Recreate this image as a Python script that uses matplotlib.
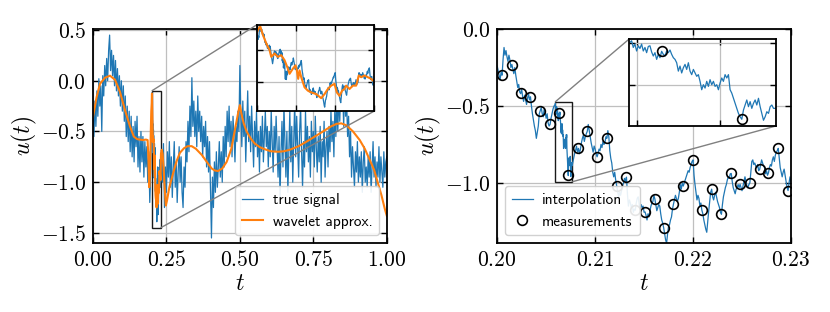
import numpy as np
import matplotlib.pyplot as plt
from matplotlib.ticker import FuncFormatter, MultipleLocator
from mpl_toolkits.axes_grid1.inset_locator import mark_inset

plt.rcParams['mathtext.fontset'] = 'cm'

# true signal, coarse part on [0, 0.2)
t_sig_a = np.arange(60) / 300
u_sig_a = [-0.30, -0.55, -0.20, -0.45, -0.10, -0.35, 0.02, -0.25, -0.05, -0.50,
           0.05, -0.15, 0.15, -0.05, 0.22, 0.00, 0.30, 0.45, 0.10, 0.30,
           0.05, 0.25, -0.05, 0.20, -0.10, 0.12, -0.15, 0.05, -0.25, 0.00,
           -0.30, -0.05, -0.40, -0.15, -0.55, -0.25, -0.60, -0.30, -0.70, -0.35,
           -0.75, -0.45, -0.80, -0.40, -0.65, -0.35, -0.85, -0.55, -0.90, -0.50,
           -0.80, -0.55, -0.95, -0.60, -0.85, -0.65, -1.00, -0.70, -1.20, -0.90]

# true signal on [0.2000, 0.2058], step 1e-4
t_sig_b1 = 0.2 + np.arange(59) * 1e-4
u_sig_b1 = [-0.24, -0.27, -0.30, -0.33, -0.28, -0.30, -0.20, -0.12, -0.17, -0.14,
            -0.18, -0.21, -0.17, -0.20, -0.25, -0.23, -0.26, -0.29, -0.25, -0.30,
            -0.34, -0.38, -0.36, -0.41, -0.42, -0.39, -0.44, -0.47, -0.43, -0.46,
            -0.49, -0.45, -0.42, -0.46, -0.44, -0.50, -0.55, -0.59, -0.63, -0.66,
            -0.71, -0.67, -0.63, -0.55, -0.53, -0.51, -0.55, -0.57, -0.52, -0.54,
            -0.58, -0.55, -0.61, -0.63, -0.62, -0.58, -0.55, -0.52, -0.50]

# true signal, finest part [0.2059, 0.2077]
t_sig_f = np.linspace(0.20592, 0.20766, 88)
u_sig_f = [-0.494, -0.484, -0.524, -0.504, -0.545, -0.514, -0.530, -0.504, -0.545, -0.524,
           -0.555, -0.518, -0.514, -0.551, -0.575, -0.555, -0.595, -0.565, -0.585, -0.547,
           -0.565, -0.575, -0.545, -0.555, -0.539, -0.565, -0.585, -0.595, -0.615, -0.665,
           -0.635, -0.676, -0.645, -0.625, -0.655, -0.615, -0.665, -0.686, -0.655, -0.676,
           -0.696, -0.686, -0.726, -0.776, -0.746, -0.766, -0.726, -0.756, -0.716, -0.746,
           -0.726, -0.756, -0.746, -0.776, -0.736, -0.706, -0.726, -0.686, -0.706, -0.686,
           -0.776, -0.796, -0.827, -0.857, -0.887, -0.917, -0.937, -0.952, -0.897, -0.867,
           -0.837, -0.877, -0.847, -0.887, -0.857, -0.837, -0.867, -0.827, -0.877, -0.917,
           -0.958, -0.937, -0.907, -0.917, -0.877, -0.867, -0.887, -0.887]

# true signal on [0.2078, 0.2300], step 1e-4
t_sig_b2 = 0.2078 + np.arange(223) * 1e-4
u_sig_b2 = [-0.84, -0.81, -0.79, -0.76, -0.80, -0.775, -0.81, -0.78, -0.74, -0.71,
            -0.69, -0.73, -0.70, -0.68, -0.664, -0.62, -0.66, -0.70, -0.74, -0.77,
            -0.80, -0.76, -0.78, -0.81, -0.83, -0.81, -0.78, -0.79, -0.75, -0.77,
            -0.73, -0.75, -0.74, -0.70, -0.71, -0.66, -0.70, -0.79, -0.84, -0.87,
            -0.93, -0.96, -0.93, -0.98, -1.018, -1.06, -1.09, -1.06, -1.08, -1.05,
            -1.02, -1.00, -0.97, -0.99, -0.962, -1.07, -1.15, -1.11, -1.13, -1.16,
            -1.14, -1.19, -1.17, -1.177, -1.13, -1.10, -1.09, -1.14, -1.17, -1.14,
            -1.16, -1.15, -1.19, -1.188, -1.21, -1.24, -1.20, -1.22, -1.18, -1.15,
            -1.13, -1.12, -1.08, -1.104, -1.14, -1.18, -1.16, -1.14, -1.15, -1.20,
            -1.24, -1.26, -1.291, -1.33, -1.37, -1.39, -1.33, -1.28, -1.27, -1.24,
            -1.22, -1.17, -1.137, -1.11, -1.08, -1.10, -1.12, -1.10, -1.06, -1.01,
            -1.04, -1.00, -1.02, -1.00, -0.98, -0.96, -0.94, -0.92, -0.93, -0.90,
            -0.88, -0.86, -0.85, -0.95, -1.01, -1.06, -1.11, -1.08, -1.10, -1.15,
            -1.13, -1.177, -1.20, -1.24, -1.27, -1.30, -1.32, -1.25, -1.18, -1.12,
            -1.06, -1.04, -1.09, -1.11, -1.08, -1.06, -1.09, -1.12, -1.14, -1.16,
            -1.19, -1.203, -1.14, -1.09, -1.06, -1.03, -1.01, -0.98, -0.96, -0.97,
            -0.94, -0.938, -0.99, -1.03, -1.05, -1.07, -1.04, -1.03, -1.01, -1.03,
            -1.009, -1.03, -1.05, -1.02, -0.99, -0.96, -0.99, -1.02, -1.03, -1.01,
            -1.00, -0.93, -0.86, -0.85, -0.88, -0.87, -0.89, -0.90, -0.88, -0.92,
            -0.912, -0.88, -0.85, -0.87, -0.89, -0.90, -0.94, -0.92, -0.95, -0.934,
            -0.90, -0.88, -0.89, -0.85, -0.83, -0.86, -0.82, -0.80, -0.79, -0.775,
            -0.84, -0.90, -0.93, -0.96, -0.93, -0.91, -0.95, -0.99, -1.03, -1.049,
            -1.00, -0.96, -1.00]

# true signal, coarse part on (0.23, 1]
t_sig_c = np.arange(70, 301) / 300
u_sig_c = [-0.70, -1.00, -0.62, -1.25, -0.85, -1.10, -0.70, -0.95, -0.60, -1.05,
           -0.75, -1.15, -0.85, -0.60, -1.05, -0.80, -1.20, -0.90, -0.65, -1.00,
           -0.75, -1.10, -1.25, -0.85, -1.05, -0.60, -0.80, -0.40, -0.70, -0.25,
           -0.55, 0.03, -0.45, -0.20, -0.55, -0.30, -0.65, -0.15, -0.50, -0.30,
           -0.60, -0.35, -0.75, -0.45, -0.65, -0.40, -0.85, -0.55, -0.90, -0.60,
           -1.05, -1.55, -0.95, -1.25, -0.80, -1.10, -0.70, -1.05, -0.85, -0.60,
           -0.95, -0.70, -1.00, -0.55, -0.85, -0.45, -0.75, -0.30, -0.60, -0.25,
           -0.65, -0.40, -0.75, -0.35, -0.55, -0.80, -0.45, -0.60, -0.30, -0.50,
           0.15, -0.35, -0.65, -0.20, -0.55, -0.30, -0.80, -0.45, -0.10, -0.60,
           -0.35, -0.70, -0.25, -0.55, -0.85, -0.40, -0.65, -0.30, -0.75, -0.50,
           -0.90, -0.45, -0.70, -0.35, -0.80, -0.55, -0.30, -0.65, -0.45, -0.85,
           -0.50, -0.75, -0.30, -0.60, -0.90, -0.45, -0.70, -0.35, -0.65, -0.95,
           -0.55, -1.15, -0.70, -0.40, -0.85, -0.25, -0.60, -0.95, -0.50, -1.10,
           -0.70, -0.30, -0.80, -0.45, -1.00, -0.60, -0.20, -0.75, -0.35, -0.65,
           -0.95, -0.50, -0.25, -0.70, -1.05, -0.60, -0.85, -0.30, -0.70, -0.45,
           -0.80, -0.55, -0.95, -0.40, -0.70, -0.50, -0.85, -0.35, -0.65, -0.90,
           -0.55, -0.80, -0.45, -1.00, -0.60, -0.75, -0.40, -0.95, -0.65, -0.50,
           -0.85, -0.45, -0.70, -0.30, -0.60, -0.40, -0.75, -0.25, -0.55, -0.20,
           -0.50, -0.15, -0.40, -0.05, -0.30, -0.10, -0.45, 0.00, -0.35, -0.20,
           -0.55, -0.35, -0.75, -0.50, -0.95, -0.65, -0.85, -1.05, -0.70, -0.90,
           -0.60, -1.00, -0.75, -0.95, -0.70, -1.10, -0.80, -0.65, -1.00, -0.85,
           -1.05, -0.75, -0.95, -0.70, -1.10, -0.85, -0.60, -0.95, -0.75, -1.05,
           -0.80, -0.95, -0.65, -1.00, -0.75, -0.90, -1.05, -0.70, -0.95, -0.80,
           -0.75]

# wavelet approximation
t_wav = [0.0, 0.0125, 0.024, 0.041, 0.058, 0.075, 0.092, 0.109, 0.126, 0.139,
         0.15, 0.16, 0.17, 0.18, 0.186, 0.1885, 0.1915, 0.1945, 0.1965, 0.1985,
         0.2, 0.20026, 0.20085, 0.20153, 0.20238, 0.20323, 0.20366, 0.20451, 0.20536,
         0.20621, 0.20706, 0.20791, 0.20833, 0.20918, 0.20986, 0.2102, 0.21054,
         0.21088, 0.21131, 0.21216, 0.21301, 0.21386, 0.21513, 0.21641, 0.21726,
         0.21811, 0.21895, 0.2198, 0.2204, 0.22108, 0.22176, 0.22235, 0.22278,
         0.22363, 0.22448, 0.22533, 0.22601, 0.22661, 0.22746, 0.22831, 0.22916,
         0.22958, 0.23, 0.2315, 0.234, 0.237, 0.2405, 0.244, 0.248, 0.252, 0.26,
         0.273, 0.285, 0.296, 0.31, 0.322, 0.336, 0.35, 0.37, 0.39, 0.404, 0.415,
         0.426, 0.44, 0.455, 0.465, 0.471, 0.482, 0.49, 0.496, 0.5, 0.505, 0.513,
         0.523, 0.537, 0.551, 0.568, 0.585, 0.605, 0.63, 0.65, 0.67, 0.7, 0.727,
         0.755, 0.783, 0.81, 0.829, 0.845, 0.863, 0.885, 0.908, 0.925, 0.942,
         0.957, 0.97, 0.982, 0.993, 1.0]
u_wav = [-0.36, -0.16, -0.03, 0.03, 0.05, 0.01, -0.11, -0.29, -0.45, -0.55,
         -0.575, -0.58, -0.585, -0.58, -0.585, -0.75, -1.05, -0.9, -0.55, -0.3,
         -0.22, -0.179, -0.126, -0.259, -0.391, -0.497, -0.603, -0.55, -0.603,
         -0.576, -0.656, -0.788, -0.868, -0.788, -0.735, -0.815, -0.947,
         -0.815, -0.921, -1.079, -1.132, -1.159, -1.185, -1.249, -1.185,
         -1.106, -1.053, -1.026, -1.159, -1.212, -1.132, -1.106, -1.053,
         -1.106, -1.053, -1.053, -0.894, -0.921, -0.894, -0.921, -0.947,
         -0.974, -0.98, -0.72, -0.68, -0.72, -0.86, -1.05, -1.23, -1.18, -1.05,
         -0.91, -0.79, -0.71, -0.665, -0.645, -0.645, -0.67, -0.73, -0.81, -0.865, -0.885,
         -0.89, -0.865, -0.8, -0.72, -0.67, -0.5, -0.38, -0.29, -0.24, -0.32, -0.42,
         -0.5, -0.57, -0.62, -0.655, -0.675, -0.695, -0.7, -0.695, -0.68, -0.645, -0.6,
         -0.55, -0.5, -0.45, -0.425, -0.42, -0.44, -0.5, -0.585, -0.67, -0.78,
         -0.88, -1.01, -1.13, -1.26, -1.33]

# measurements
t_meas = [0.2005, 0.20147, 0.2024, 0.2034, 0.2044, 0.2054, 0.20631, 0.20726, 0.2083, 0.2092,
          0.2102, 0.2112, 0.2122, 0.2132, 0.2141, 0.2151, 0.2161, 0.2170, 0.2180, 0.2190,
          0.2200, 0.2209, 0.2219, 0.2229, 0.2239, 0.2248, 0.2258, 0.2268, 0.2277, 0.2287,
          0.2297]
u_meas = [-0.296, -0.232, -0.417, -0.441, -0.530, -0.620, -0.545, -0.951, -0.775, -0.664,
          -0.830, -0.711, -1.018, -0.962, -1.177, -1.188, -1.104, -1.291, -1.137, -1.020,
          -0.850, -1.177, -1.040, -1.203, -0.938, -1.009, -1.000, -0.912, -0.934, -0.775,
          -1.049]

t_sig = np.concatenate([t_sig_a, t_sig_b1, t_sig_f, t_sig_b2, t_sig_c])
u_sig = np.concatenate([u_sig_a, u_sig_b1, u_sig_f, u_sig_b2, u_sig_c])
order = np.argsort(t_sig)
t_sig, u_sig = t_sig[order], u_sig[order]

BLUE = "#1f77b4"
ORANGE = "#ff7f0e"


def fmt(nd):
    return FuncFormatter(lambda v, p: f"${v:.{nd}f}$")


def style(ax, labels=True):
    ax.tick_params(direction="in", top=True, right=True, length=4, width=1,
                   labelsize=15.5, pad=5)
    ax.grid(color="0.75", lw=0.9)
    ax.set_axisbelow(True)
    for s in ax.spines.values():
        s.set_linewidth(1.3)
    if not labels:
        ax.tick_params(labelbottom=False, labelleft=False)


leg_kw = dict(prop={"family": "cmss10", "size": 11}, handlelength=1.4,
              handletextpad=0.6, borderpad=0.45, framealpha=0.9)

fig = plt.figure(figsize=(8.3, 3.12), dpi=100)
ax1 = fig.add_axes([0.112, 0.221, 0.354, 0.686])
ax2 = fig.add_axes([0.599, 0.221, 0.354, 0.686])

# left panel
ax1.plot(t_sig, u_sig, color=BLUE, lw=0.9, label="true signal")
ax1.plot(t_wav, u_wav, color=ORANGE, lw=1.5, label="wavelet approx.")
ax1.set_xlim(0, 1)
ax1.set_ylim(-1.6, 0.51)
ax1.xaxis.set_major_locator(MultipleLocator(0.25))
ax1.yaxis.set_major_locator(MultipleLocator(0.5))
ax1.xaxis.set_major_formatter(fmt(2))
ax1.yaxis.set_major_formatter(fmt(1))
style(ax1)
ax1.set_xlabel("$t$", fontsize=17, labelpad=1)
ax1.set_ylabel("$u(t)$", fontsize=17, labelpad=1)
ax1.legend(loc="lower right", **leg_kw)

in1 = ax1.inset_axes([0.558, 0.617, 0.40, 0.403])
in1.plot(t_sig, u_sig, color=BLUE, lw=0.9)
in1.plot(t_wav, u_wav, color=ORANGE, lw=1.5)
in1.set_xlim(0.2, 0.23)
in1.set_ylim(-1.45, -0.1)
in1.xaxis.set_major_locator(MultipleLocator(0.01))
in1.yaxis.set_major_locator(MultipleLocator(0.5))
style(in1, labels=False)
box1, c1, c2 = mark_inset(ax1, in1, loc1=2, loc2=4, fc="none", ec="0.5", lw=1)
box1.set_edgecolor("0.1")

# right panel
ax2.plot(t_sig, u_sig, color=BLUE, lw=0.9, label="interpolation")
ax2.plot(t_meas, u_meas, "o", mfc="none", mec="k", ms=7, mew=1.2,
         label="measurements")
ax2.set_xlim(0.2, 0.23)
ax2.set_ylim(-1.39, 0.0)
ax2.xaxis.set_major_locator(MultipleLocator(0.01))
ax2.yaxis.set_major_locator(MultipleLocator(0.5))
ax2.xaxis.set_major_formatter(fmt(2))
ax2.yaxis.set_major_formatter(fmt(1))
style(ax2)
ax2.set_xlabel("$t$", fontsize=17, labelpad=1)
ax2.set_ylabel("$u(t)$", fontsize=17, labelpad=1)
ax2.legend(loc="lower left", **leg_kw)

in2 = ax2.inset_axes([0.449, 0.547, 0.50, 0.406])
in2.plot(t_sig, u_sig, color=BLUE, lw=0.9)
in2.plot(t_meas, u_meas, "o", mfc="none", mec="k", ms=7, mew=1.2)
in2.set_xlim(0.20591, 0.20767)
in2.set_ylim(-0.992, -0.474)
in2.xaxis.set_major_locator(MultipleLocator(0.001))
in2.yaxis.set_major_locator(MultipleLocator(0.25))
style(in2, labels=False)
box2, c3, c4 = mark_inset(ax2, in2, loc1=2, loc2=4, fc="none", ec="0.5", lw=1)
box2.set_edgecolor("0.1")

fig.savefig("out.png", dpi=100)
